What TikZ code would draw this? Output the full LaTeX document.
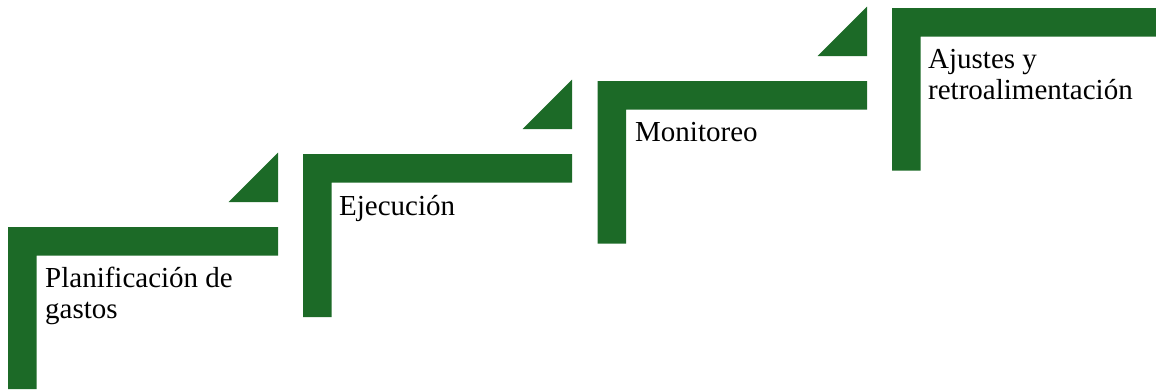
\documentclass[tikz,border=0pt]{standalone}
\usepackage{fontspec}
\setmainfont{Liberation Serif}
\usepackage{xcolor}
\definecolor{stepgreen}{RGB}{28,106,39}

\begin{document}
\begin{tikzpicture}[x=1pt, y=-1pt,
    stepfill/.style={fill=stepgreen},
    steplabel/.style={anchor=base west, inner sep=0pt, align=left,
      font=\fontsize{29}{31}\selectfont}]
  \useasboundingbox (0, 0) rectangle (1156, 389);
  %--- Planificacion de gastos
    \fill[stepfill] (8, 227) -- ++ (270, 0) -- ++ (0, 28.5) -- ++ (-241.5, 0) -- ++ (0, 133.5) -- ++ (-28.5, 0) -- cycle;
    \fill[stepfill] (278, 202) -- ++ (-49.5, 0) -- ++ (49.5, -49.5) -- cycle;
    \node[steplabel] (plan) at (45, 318) {Planificación de\\gastos};
  %--- Ejecucion
    \fill[stepfill] (303, 154) -- ++ (269, 0) -- ++ (0, 28.5) -- ++ (-240.5, 0) -- ++ (0, 134.5) -- ++ (-28.5, 0) -- cycle;
    \fill[stepfill] (572, 129) -- ++ (-49.5, 0) -- ++ (49.5, -49.5) -- cycle;
    \node[steplabel] (ejec) at (339, 215) {Ejecución};
  %--- Monitoreo
    \fill[stepfill] (597.5, 81) -- ++ (269.5, 0) -- ++ (0, 28.5) -- ++ (-241, 0) -- ++ (0, 134) -- ++ (-28.5, 0) -- cycle;
    \fill[stepfill] (867, 56) -- ++ (-49.5, 0) -- ++ (49.5, -49.5) -- cycle;
    \node[steplabel] (moni) at (635, 141.5) {Monitoreo};
  %--- Ajustes y retroalimentacion
    \fill[stepfill] (892, 8) -- ++ (264, 0) -- ++ (0, 28.5) -- ++ (-235.5, 0) -- ++ (0, 134) -- ++ (-28.5, 0) -- cycle;
    \node[steplabel] (ajus) at (928, 99.5) {Ajustes y\\retroalimentación};
\end{tikzpicture}
\end{document}
